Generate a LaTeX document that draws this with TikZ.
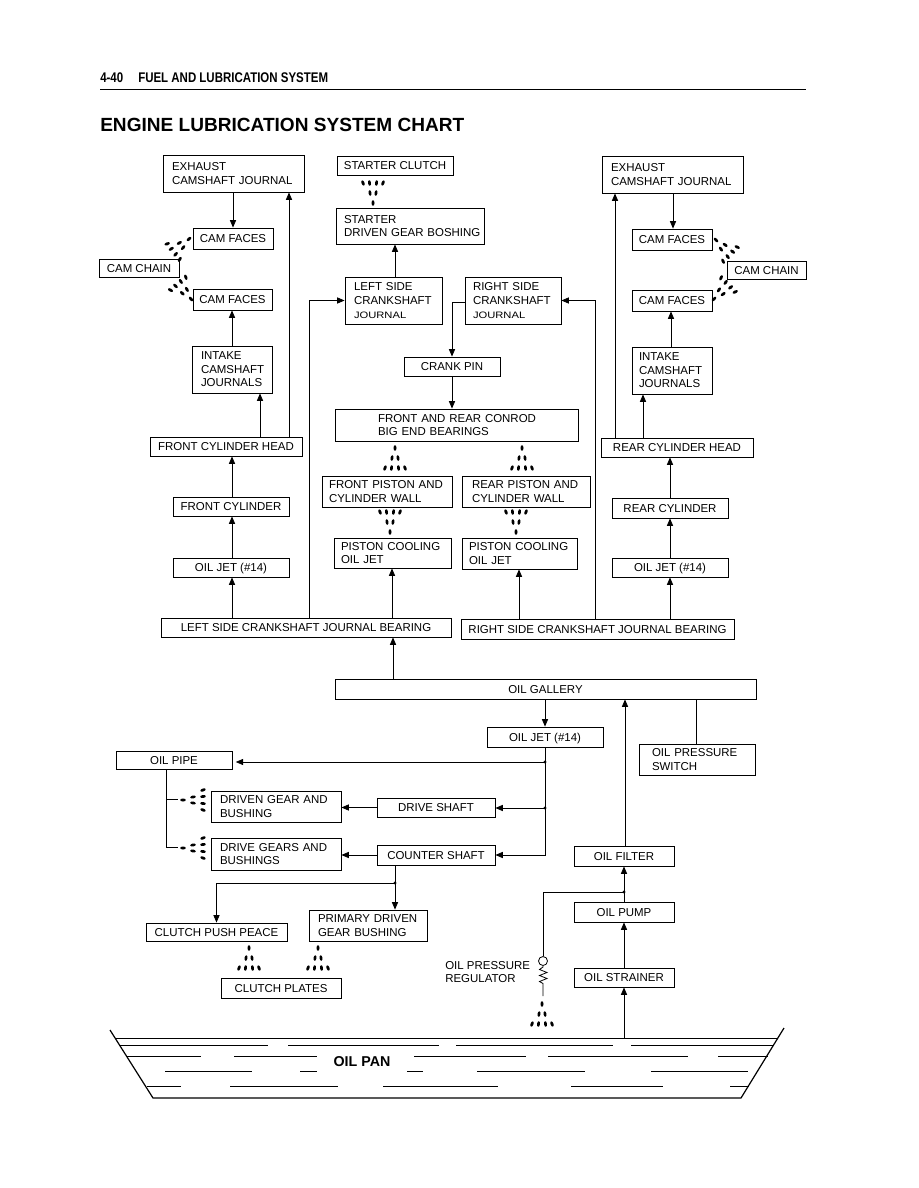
\documentclass[tikz,border=0pt]{standalone}
\usepackage{fontspec}
\setmainfont{Liberation Sans}
\newfontfamily\hdrfont[FakeStretch=0.82]{Liberation Sans}
\newfontfamily\widefont[FakeStretch=1.2]{Liberation Sans}
\usetikzlibrary{arrows.meta}
\newcommand{\boxfont}{\fontsize{8.6}{10.2}\selectfont}
\newcommand{\smallj}{\widefont\fontsize{7}{8}\selectfont}
\tikzset{
  box/.style={draw, line width=0.6pt, inner sep=0pt, font=\boxfont, align=center},
  conn/.style={line width=0.6pt},
  arr/.style={line width=0.6pt, -{Triangle[length=5.6pt,width=4.6pt]}},
  spray/.pic={
    \foreach \dx/\dy/\da in {0/0/0, -3/10/-10, 3/10/10, -10/20/-20, -3.5/20/-8, 3.5/20/8, 10/20/20}
      \fill[shift={(\dx,\dy)}, rotate=\da] (0,0) ellipse [x radius=1.5, y radius=2.8];
  }
}
\newcommand{\cbox}[6]{%
  \pgfmathsetlengthmacro{\mybw}{(#4-#2)*0.75pt}%
  \pgfmathsetlengthmacro{\mybh}{(#5-#3)*0.75pt}%
  \node[box, text height=6.27pt, text depth=0pt, minimum width=\mybw, minimum height=\mybh] (#1) at ({(#2+#4)/2},{(#3+#5)/2}) {#6};}
\newcommand{\lbox}[7]{%
  \pgfmathsetlengthmacro{\mytw}{(#4-#2-2*#6)*0.75pt}%
  \pgfmathsetlengthmacro{\mypx}{#6*0.75pt}%
  \pgfmathsetlengthmacro{\mybh}{(#5-#3)*0.75pt}%
  \node[box, align=left, text width=\mytw, inner xsep=\mypx, inner ysep=0pt, minimum height=\mybh] (#1) at ({(#2+#4)/2},{(#3+#5)/2}) {#7};}
\begin{document}
\begin{tikzpicture}[x=0.75pt, y=-0.75pt]
\useasboundingbox (0,0) rectangle (918,1188);
\fill[white] (0,0) rectangle (918,1188);

% header
\node[anchor=base west, inner sep=0pt, font=\hdrfont\bfseries\fontsize{10.5}{12}\selectfont] (hdrA) at (100,83) {4-40};
\node[anchor=base west, inner sep=0pt, font=\hdrfont\bfseries\fontsize{10.5}{12}\selectfont] (hdrB) at (138,83) {FUEL AND LUBRICATION SYSTEM};
\draw[line width=1.4pt] (100,89.5) -- (806,89.5);
\node[anchor=base west, inner sep=0pt, font=\bfseries\fontsize{14.3}{16}\selectfont] (title) at (100,131) {ENGINE LUBRICATION SYSTEM CHART};

% left head group
\lbox{exL}{163}{155}{304}{192}{9}{\mbox{EXHAUST}\\\mbox{CAMSHAFT JOURNAL}}
\cbox{cfLa}{193}{228}{273}{249}{CAM FACES}
\cbox{ccL}{99}{259}{179}{277}{CAM CHAIN}
\cbox{cfLb}{193}{289}{272}{310}{CAM FACES}
\lbox{intL}{192}{346}{272}{393}{9}{\mbox{INTAKE}\\\mbox{CAMSHAFT}\\\mbox{JOURNALS}}
\cbox{fchL}{150}{437}{302}{456}{FRONT CYLINDER HEAD}
\cbox{fcL}{173}{497}{289}{516}{FRONT CYLINDER}
\cbox{ojL}{173}{558}{289}{577}{OIL JET (\#14)}
\cbox{lbr}{161}{618}{451}{637}{LEFT SIDE CRANKSHAFT JOURNAL BEARING}

% centre group
\cbox{sc}{337}{156}{453}{175}{STARTER CLUTCH}
\lbox{sdg}{336}{208}{484}{244}{8}{\mbox{STARTER}\\\mbox{DRIVEN GEAR BOSHING}}
\lbox{lscj}{345}{277}{442}{324}{9}{\mbox{LEFT SIDE}\\\mbox{CRANKSHAFT}\\\mbox{\smallj JOURNAL}}
\lbox{rscj}{465}{277}{561}{324}{8}{\mbox{RIGHT SIDE}\\\mbox{CRANKSHAFT}\\\mbox{\smallj JOURNAL}}
\cbox{crank}{404}{357}{500}{376}{CRANK PIN}
\lbox{conrod}{335}{409}{578}{441}{43}{\mbox{FRONT AND REAR CONROD}\\\mbox{BIG END BEARINGS}}
\lbox{fp}{322}{476}{452}{507}{7}{\mbox{FRONT PISTON AND}\\\mbox{CYLINDER WALL}}
\lbox{rp}{462}{476}{590}{507}{10}{\mbox{REAR PISTON AND}\\\mbox{CYLINDER WALL}}
\lbox{pcL}{334}{538}{451}{568}{7}{\mbox{PISTON COOLING}\\\mbox{OIL JET}}
\lbox{pcR}{462}{538}{577}{569}{7}{\mbox{PISTON COOLING}\\\mbox{OIL JET}}

% right head group
\lbox{exR}{602}{156}{743}{193}{9}{\mbox{EXHAUST}\\\mbox{CAMSHAFT JOURNAL}}
\cbox{cfRa}{632}{229}{712}{250}{CAM FACES}
\cbox{ccR}{727}{261}{806}{279}{CAM CHAIN}
\cbox{cfRb}{632}{290}{712}{311}{CAM FACES}
\lbox{intR}{632}{347}{712}{394}{7}{\mbox{INTAKE}\\\mbox{CAMSHAFT}\\\mbox{JOURNALS}}
\cbox{rchR}{601}{438}{753}{457}{REAR CYLINDER HEAD}
\cbox{rcR}{612}{498}{728}{518}{REAR CYLINDER}
\cbox{ojR}{612}{558}{728}{577}{OIL JET (\#14)}
\cbox{rbr}{461}{619}{734}{639}{RIGHT SIDE CRANKSHAFT JOURNAL BEARING}

% lower group
\cbox{gal}{335}{679}{756}{699}{OIL GALLERY}
\cbox{ojC}{487}{727}{603}{747}{OIL JET (\#14)}
\lbox{ops}{639}{744}{755}{775}{13}{\mbox{OIL PRESSURE}\\\mbox{SWITCH}}
\cbox{pipe}{116}{751}{232}{769}{OIL PIPE}
\lbox{dg}{211}{791}{341}{822}{9}{\mbox{DRIVEN GEAR AND}\\\mbox{BUSHING}}
\lbox{dgs}{211}{838}{341}{870}{9}{\mbox{DRIVE GEARS AND}\\\mbox{BUSHINGS}}
\cbox{ds}{377}{798}{495}{817}{DRIVE SHAFT}
\cbox{cs}{377}{845}{495}{865}{COUNTER SHAFT}
\cbox{cpp}{146}{923}{287}{941}{CLUTCH PUSH PEACE}
\lbox{pdg}{309}{910}{427}{941}{9}{\mbox{PRIMARY DRIVEN}\\\mbox{GEAR BUSHING}}
\cbox{cp}{221}{978}{341}{998}{CLUTCH PLATES}
\cbox{filt}{574}{846}{674}{866}{OIL FILTER}
\cbox{pump}{574}{902}{674}{922}{OIL PUMP}
\cbox{strn}{574}{968}{674}{987}{OIL STRAINER}
\node[draw, circle, inner sep=0pt, minimum size=6.75pt, line width=0.6pt] (reg) at (543,961) {};
\node[anchor=west, inner sep=0pt, align=left, font=\fontsize{8.6}{9.8}\selectfont] (regtxt) at (445,972.5) {OIL PRESSURE\\REGULATOR};

% left connectors
\draw[arr] (exL.south -| 233,0) -- (cfLa.north -| 233,0);
\draw[arr] (intL.north -| 232,0) -- (cfLb.south -| 232,0);
\draw[arr] (fchL.north -| 260,0) -- (intL.south -| 260,0);
\draw[arr] (fchL.north -| 289,0) -- (exL.south -| 289,0);
\draw[arr] (fcL.north -| 232,0) -- (fchL.south -| 232,0);
\draw[arr] (ojL.north -| 232,0) -- (fcL.south -| 232,0);
\draw[arr] (lbr.north -| 232,0) -- (ojL.south -| 232,0);
\draw[arr] (lbr.north -| 309,0) |- (lscj.west);
\draw[arr] (lbr.north -| 392,0) -- (pcL.south -| 392,0);

% centre connectors
\draw[arr] (lscj.north -| 395,0) -- (sdg.south -| 395,0);
\draw[arr] (rbr.north -| 595,0) |- (rscj.east);
\draw[arr] (rscj.west |- 0,302) -| (crank.north);
\draw[arr] (crank.south) -- (conrod.north -| crank.south);
\draw[arr] (rbr.north -| 519,0) -- (pcR.south -| 519,0);

% right connectors
\draw[arr] (exR.south -| 673,0) -- (cfRa.north -| 673,0);
\draw[arr] (intR.north -| 671,0) -- (cfRb.south -| 671,0);
\draw[arr] (rchR.north -| 643,0) -- (intR.south -| 643,0);
\draw[arr] (rchR.north -| 615,0) -- (exR.south -| 615,0);
\draw[arr] (rcR.north -| 670,0) -- (rchR.south -| 670,0);
\draw[arr] (ojR.north -| 670,0) -- (rcR.south -| 670,0);
\draw[arr] (rbr.north -| 670,0) -- (ojR.south -| 670,0);

% gallery connectors
\draw[arr] (gal.north -| 393,0) -- (lbr.south -| 393,0);
\draw[arr] (gal.south -| 545,0) -- (ojC.north -| 545,0);
\draw[conn] (gal.south -| 696,0) -- (ops.north -| 696,0);
\draw[arr] (filt.north -| 625,0) -- (gal.south -| 625,0);
\coordinate (j1) at (545,762);
\coordinate (j2) at (545,808);
\draw[arr] (ojC.south -| 545,0) |- (cs.east);
\draw[arr, shorten >=2.5pt] (j1) -- (pipe.east |- j1);
\draw[arr] (j2) -- (ds.east |- j2);
\fill (j1) circle [radius=1.6];
\fill (j2) circle [radius=1.6];
\draw[arr] (ds.west) -- (dg.east |- ds.west);
\draw[arr] (cs.west) -- (dgs.east |- cs.west);
\coordinate (j3) at (395,883);
\draw[conn] (cs.south -| j3) -- (j3);
\draw[arr] (j3) -- (pdg.north -| j3);
\draw[arr] (j3) -| (cpp.north);
\fill (j3) circle [radius=1.6];
\coordinate (sa) at (178,799);
\coordinate (sb) at (178,847);
\draw[conn] (pipe.south -| 166,0) |- (sb);
\draw[conn] (166,799) -- (sa);

% pump circuit
\coordinate (j4) at (624,892);
\draw[arr] (pump.north) -- (filt.south);
\draw[conn] (j4) -| (reg.north);
\fill (j4) circle [radius=1.6];
\draw[arr] (strn.north) -- (pump.south);
\coordinate (pansurf) at (624,1038);
\draw[arr] (pansurf) -- (strn.south);
\draw[conn] (reg.south) -- (543,967) -- (539.5,969.5) -- (547,972.5) -- (539.5,975.5) -- (547,978.5) -- (539.5,981.5) -- (543,983.5) -- (543,996);

% sprays
\pic[rotate=180] at (373,203) {spray};
\pic at (395,448) {spray};
\pic at (522,448) {spray};
\pic[rotate=180] at (390,532) {spray};
\pic[rotate=180] at (516,532) {spray};
\pic[rotate=-51] at (189,239) {spray};
\pic[rotate=-140] at (191,299) {spray};
\pic[rotate=45] at (716,240) {spray};
\pic[rotate=135] at (714,299) {spray};
\pic[rotate=90] at (183,800) {spray};
\pic[rotate=90] at (183,848) {spray};
\pic at (249,948) {spray};
\pic at (318,948) {spray};
\pic at (542,1004) {spray};

% oil pan
\draw[line width=0.9pt] (110,1030) -- (153,1098) -- (741,1098) -- (784,1028);
\draw[conn] (115,1038) -- (778,1038);
\foreach \a/\b in {119/268, 288/439, 456/613, 631/773} \draw[conn] (\a,1045) -- (\b,1045);
\foreach \a/\b in {127/201, 234/317, 414/526, 548/688, 718/768} \draw[conn] (\a,1056) -- (\b,1056);
\foreach \a/\b in {165/252, 300/317, 407/423, 477/585, 651/748} \draw[conn] (\a,1071) -- (\b,1071);
\foreach \a/\b in {147/181, 230/338, 383/498, 571/663, 730/749} \draw[conn] (\a,1086) -- (\b,1086);
\node[inner sep=0pt, font=\bfseries\fontsize{10.7}{12}\selectfont] (pan) at (362,1062) {OIL PAN};
\end{tikzpicture}
\end{document}
